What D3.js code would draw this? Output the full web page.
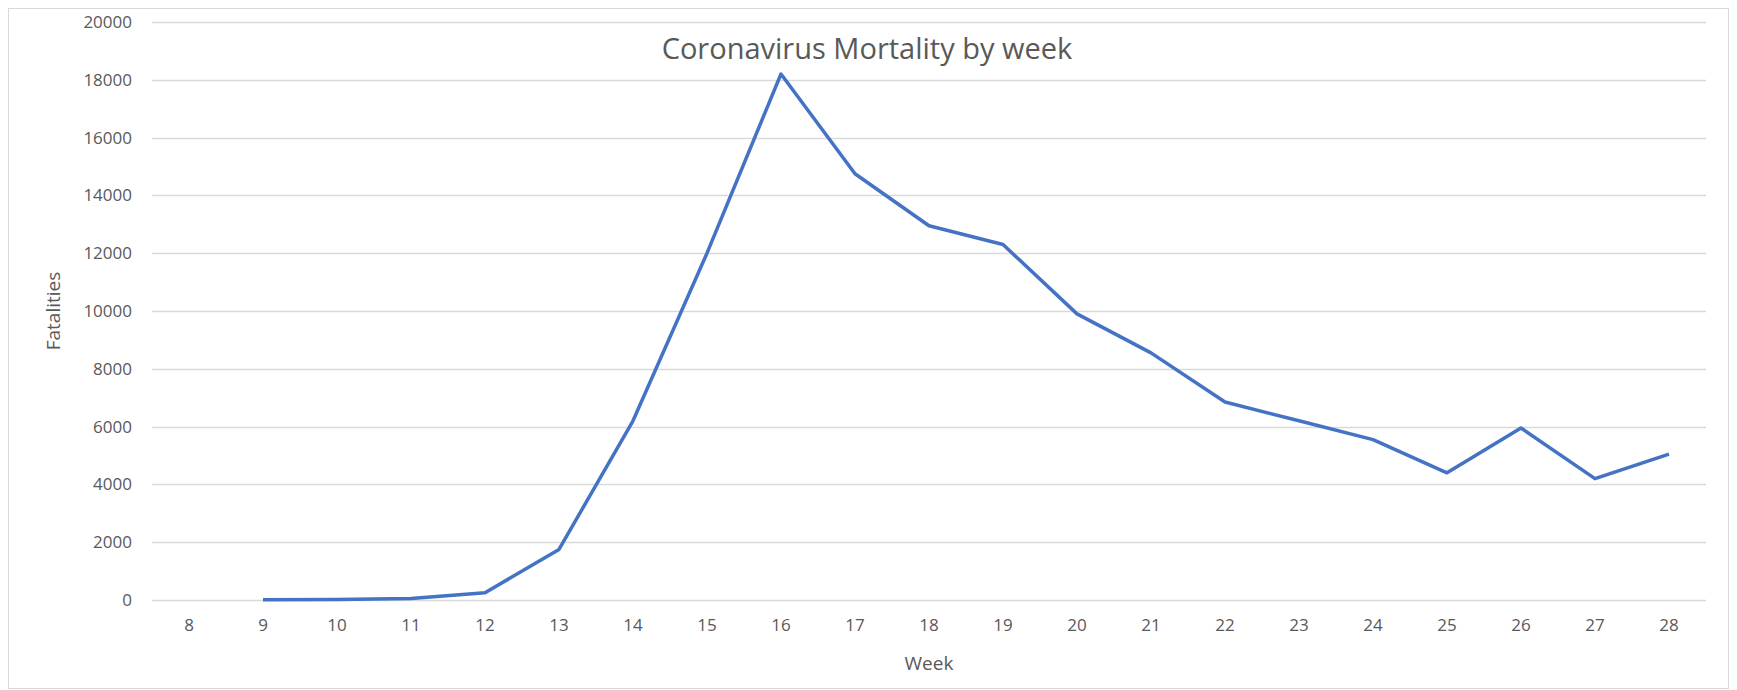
<!DOCTYPE html>
<html>
<head>
<meta charset="utf-8">
<script src="https://cdn.jsdelivr.net/npm/d3@7"></script>
<style>
  body { margin: 0; background: #fff; }
  text { font-family: "Open Sans", sans-serif; fill: #595959; }
</style>
</head>
<body>
<div id="chart"></div>
<script>
// weekly data
var weeks = [8, 9, 10, 11, 12, 13, 14, 15, 16, 17, 18, 19, 20, 21, 22, 23, 24, 25, 26, 27, 28];
var fatalities = [null, 10, 20, 50, 250, 1750, 6200, 12000, 18200, 14750, 12950, 12300, 9900, 8550, 6850, 6200, 5550, 4400, 5950, 4200, 5050];
var yTicks = [0, 2000, 4000, 6000, 8000, 10000, 12000, 14000, 16000, 18000, 20000];

var W = 1737, H = 690;
var m = {left: 152, right: 31, top: 22, bottom: 90};

var svg = d3.select("#chart").append("svg")
    .attr("width", W)
    .attr("height", H);

svg.append("rect")
    .attr("x", 8.5).attr("y", 8.5)
    .attr("width", W - 17).attr("height", H - 10)
    .attr("fill", "#fff").attr("stroke", "#d9d9d9");

var x = d3.scaleBand().domain(weeks).range([m.left, W - m.right]);
var y = d3.scaleLinear().domain([0, 20000]).range([H - m.bottom, m.top]);

// gridlines
svg.append("g").selectAll("line")
    .data(yTicks).enter().append("line")
    .attr("x1", m.left).attr("x2", W - m.right)
    .attr("y1", function (d) { return Math.round(y(d)) + 0.5; })
    .attr("y2", function (d) { return Math.round(y(d)) + 0.5; })
    .attr("stroke", "#d9d9d9").attr("stroke-width", 1.3);

// y labels
svg.append("g").selectAll("text")
    .data(yTicks).enter().append("text")
    .attr("x", m.left - 20)
    .attr("y", function (d) { return y(d); })
    .attr("dy", "0.35em")
    .attr("text-anchor", "end")
    .style("font-size", "17px")
    .text(function (d) { return d; });

// x labels
svg.append("g").selectAll("text")
    .data(weeks).enter().append("text")
    .attr("x", function (d) { return x(d) + x.bandwidth() / 2; })
    .attr("y", H - m.bottom + 31)
    .attr("text-anchor", "middle")
    .style("font-size", "17px")
    .text(function (d) { return d; });

var line = d3.line()
    .defined(function (d) { return d[1] != null; })
    .x(function (d) { return x(d[0]) + x.bandwidth() / 2; })
    .y(function (d) { return y(d[1]); });

svg.append("path")
    .datum(d3.zip(weeks, fatalities))
    .attr("d", line)
    .attr("fill", "none")
    .attr("stroke", "#4472c4")
    .attr("stroke-width", 3.5)
    .attr("stroke-linejoin", "round");

svg.append("text")
    .attr("x", 867).attr("y", 59)
    .attr("text-anchor", "middle")
    .style("font-size", "29px")
    .text("Coronavirus Mortality by week");

svg.append("text")
    .attr("x", (m.left + W - m.right) / 2).attr("y", 670)
    .attr("text-anchor", "middle")
    .style("font-size", "19px")
    .text("Week");

svg.append("text")
    .attr("transform", "translate(60," + ((m.top + H - m.bottom) / 2) + ") rotate(-90)")
    .attr("text-anchor", "middle")
    .style("font-size", "19px")
    .text("Fatalities");
</script>
</body>
</html>
